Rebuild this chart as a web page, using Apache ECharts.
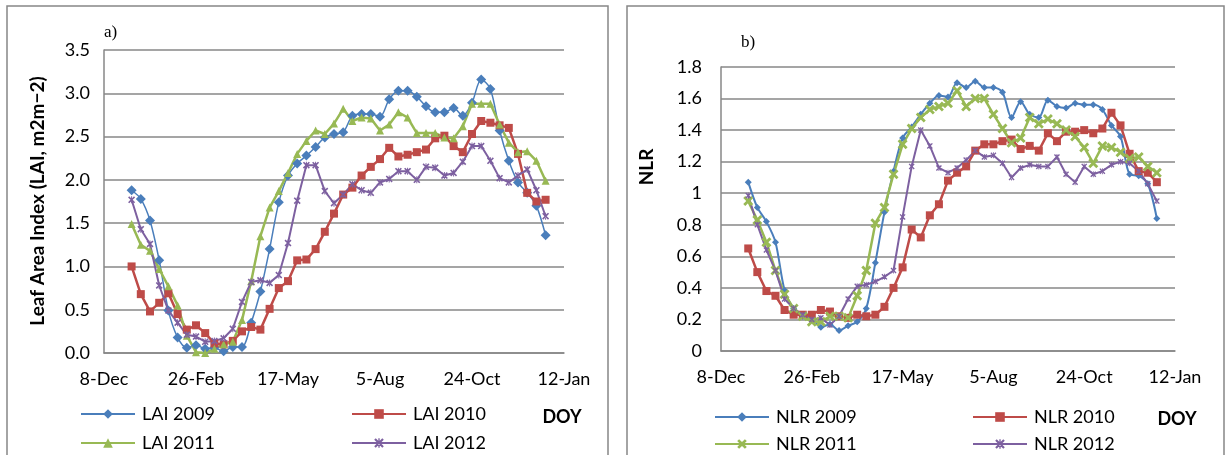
<!DOCTYPE html>
<html>
<head>
<meta charset="utf-8">
<script src="https://cdn.jsdelivr.net/npm/echarts@6/dist/echarts.min.js"></script>
<style>
html,body{margin:0;padding:0;background:#fff;}
#c{width:1226px;height:455px;}
</style>
</head>
<body>
<div id="c"></div>
<script>
// ---- data ----
const xTickLabels = ['8-Dec', '26-Feb', '17-May', '5-Aug', '24-Oct', '12-Jan'];
// 8-day composite day-of-year
const doy = [1,9,17,25,33,41,49,57,65,73,81,89,97,105,113,121,129,137,145,153,161,169,177,185,193,201,209,217,225,233,241,249,257,265,273,281,289,297,305,313,321,329,337,345,353,361];
const dayOffset = 23; // days from 8-Dec to 31-Dec (axis origin = 8-Dec)

const laiTicks = [0, 0.5, 1.0, 1.5, 2.0, 2.5, 3.0, 3.5];
const nlrTicks = [0, 0.2, 0.4, 0.6, 0.8, 1, 1.2, 1.4, 1.6, 1.8];

const lai2009 = [1.88,1.78,1.53,1.07,0.49,0.18,0.06,0.09,0.05,0.06,0.02,0.07,0.07,0.35,0.71,1.20,1.74,2.05,2.19,2.28,2.38,2.49,2.53,2.55,2.74,2.76,2.76,2.73,2.93,3.03,3.03,2.96,2.85,2.78,2.78,2.83,2.74,2.89,3.16,3.05,2.57,2.22,1.97,1.85,1.70,1.36];
const lai2010 = [1.00,0.68,0.48,0.58,0.69,0.45,0.27,0.32,0.23,0.11,0.10,0.14,0.25,0.30,0.27,0.51,0.75,0.83,1.07,1.08,1.20,1.40,1.61,1.83,1.91,2.05,2.15,2.24,2.37,2.27,2.29,2.32,2.35,2.48,2.51,2.39,2.32,2.53,2.68,2.66,2.63,2.60,2.30,1.85,1.75,1.77];
const lai2011 = [1.49,1.25,1.18,0.97,0.77,0.55,0.20,0.01,0.00,0.05,0.10,0.13,0.38,0.83,1.35,1.68,1.87,2.08,2.30,2.45,2.57,2.53,2.65,2.82,2.68,2.72,2.71,2.57,2.64,2.78,2.72,2.54,2.54,2.54,2.49,2.48,2.62,2.88,2.88,2.88,2.64,2.43,2.32,2.33,2.22,1.99];
const lai2012 = [1.77,1.43,1.26,0.78,0.49,0.35,0.21,0.19,0.13,0.14,0.17,0.28,0.59,0.82,0.84,0.81,0.90,1.27,1.76,2.17,2.17,1.87,1.73,1.83,1.95,1.88,1.85,1.97,2.01,2.10,2.10,2.00,2.15,2.14,2.05,2.08,2.21,2.39,2.39,2.22,2.02,1.97,2.05,2.12,1.88,1.58];

const nlr2009 = [1.07,0.91,0.82,0.69,0.385,0.27,0.22,0.21,0.15,0.17,0.13,0.16,0.185,0.27,0.56,0.88,1.14,1.35,1.42,1.50,1.57,1.62,1.61,1.70,1.67,1.71,1.67,1.67,1.64,1.48,1.58,1.50,1.48,1.59,1.55,1.54,1.57,1.56,1.56,1.53,1.43,1.36,1.12,1.11,1.06,0.84];
const nlr2010 = [0.65,0.50,0.38,0.35,0.26,0.23,0.23,0.23,0.26,0.25,0.22,0.21,0.23,0.22,0.23,0.28,0.40,0.53,0.77,0.72,0.86,0.93,1.08,1.13,1.17,1.27,1.31,1.31,1.33,1.34,1.28,1.30,1.27,1.38,1.33,1.39,1.39,1.40,1.38,1.41,1.51,1.43,1.25,1.14,1.13,1.07];
const nlr2011 = [0.95,0.83,0.69,0.51,0.36,0.27,0.22,0.185,0.185,0.22,0.22,0.21,0.35,0.51,0.81,0.91,1.12,1.31,1.41,1.48,1.53,1.55,1.57,1.65,1.55,1.60,1.60,1.50,1.41,1.32,1.35,1.48,1.44,1.47,1.44,1.40,1.36,1.29,1.19,1.30,1.29,1.26,1.22,1.23,1.17,1.13];
const nlr2012 = [0.985,0.80,0.64,0.51,0.33,0.27,0.23,0.20,0.21,0.165,0.22,0.33,0.41,0.42,0.44,0.47,0.51,0.85,1.17,1.40,1.30,1.16,1.13,1.16,1.21,1.27,1.23,1.24,1.19,1.10,1.16,1.18,1.17,1.17,1.23,1.12,1.07,1.17,1.12,1.14,1.18,1.20,1.19,1.14,1.06,0.95];

// ---- styling ----
const FONT = 'Lato';
const GRID = '#878787';
const C_BLUE = '#4A7EBB', C_RED = '#BE4B48', C_GREEN = '#98B954', C_PURPLE = '#7D60A0';
const X_SYM = 'path://M0,2 L2,0 L5,3 L8,0 L10,2 L7,5 L10,8 L8,10 L5,7 L2,10 L0,8 L3,5 Z';
const STAR_SYM = 'path://M0,1.6 L1.6,0 L5,3.4 L8.4,0 L10,1.6 L6.6,5 L10,8.4 L8.4,10 L5,6.6 L1.6,10 L0,8.4 L3.4,5 Z M4.3,0 L5.7,0 L5.7,3.6 L5,4.3 L4.3,3.6 Z M4.3,10 L5.7,10 L5.7,6.4 L5,5.7 L4.3,6.4 Z';

function pts(vals) { return doy.map((d, i) => [d + dayOffset, vals[i]]); }

function xAxis(gi) {
  return {
    type: 'value', gridIndex: gi, min: 0, max: 400, interval: 80,
    axisLine: { show: true, lineStyle: { color: GRID, width: 1.5 } },
    axisTick: { show: false },
    splitLine: { show: false },
    axisLabel: { margin: 17, color: '#000', fontFamily: FONT, fontSize: 18,
      formatter: v => xTickLabels[Math.round(v / 80)] }
  };
}
function yAxis(gi, ticks, fmt, margin) {
  return {
    type: 'value', gridIndex: gi, min: ticks[0], max: ticks[ticks.length - 1],
    interval: ticks[1] - ticks[0],
    axisLine: { show: true, lineStyle: { color: GRID, width: 1.5 } },
    axisTick: { show: false },
    splitLine: { show: true, lineStyle: { color: GRID, width: 1.5 } },
    axisLabel: { margin: margin, color: '#000', fontFamily: FONT, fontSize: 18, formatter: fmt }
  };
}
function series(name, gi, vals, color, symbol, size, width, smooth) {
  return {
    name: name, type: 'line', xAxisIndex: gi, yAxisIndex: gi, data: pts(vals),
    symbol: symbol, symbolSize: size, showSymbol: true, smooth: smooth || false,
    lineStyle: { color: color, width: width },
    itemStyle: { color: color },
    emphasis: { disabled: true }, animation: false, z: 3
  };
}
function legend(name, left, top) {
  return {
    data: [name], left: left, top: top, padding: 0, itemWidth: 54, itemHeight: 12, itemGap: 0,
    selectedMode: false,
    textStyle: { fontFamily: FONT, fontSize: 18, color: '#000', padding: [0, 0, 0, 2] }
  };
}

const option = {
  backgroundColor: '#fff',
  animation: false,
  grid: [
    { left: 104, top: 50, width: 460, height: 303 },
    { left: 721, top: 67, width: 454, height: 284 }
  ],
  xAxis: [xAxis(0), xAxis(1)],
  yAxis: [
    yAxis(0, laiTicks, v => v.toFixed(1), 14),
    yAxis(1, nlrTicks, v => String(+v.toFixed(1)), 19)
  ],
  legend: [
    legend('LAI 2009', 80, 405), legend('LAI 2011', 80, 434),
    legend('LAI 2010', 351, 405), legend('LAI 2012', 351, 434),
    legend('NLR 2009', 714, 408), legend('NLR 2011', 714, 435),
    legend('NLR 2010', 972, 408), legend('NLR 2012', 972, 435)
  ],
  series: [
    series('LAI 2009', 0, lai2009, C_BLUE, 'diamond', 10, 1.5, 0.3),
    series('LAI 2010', 0, lai2010, C_RED, 'rect', 8, 2.5),
    series('LAI 2011', 0, lai2011, C_GREEN, 'triangle', 8, 2.5),
    series('LAI 2012', 0, lai2012, C_PURPLE, STAR_SYM, 7, 2),
    series('NLR 2009', 1, nlr2009, C_BLUE, 'diamond', 7, 2, 0.3),
    series('NLR 2010', 1, nlr2010, C_RED, 'rect', 8, 2.5),
    series('NLR 2011', 1, nlr2011, C_GREEN, X_SYM, 10, 2.5),
    series('NLR 2012', 1, nlr2012, C_PURPLE, STAR_SYM, 6, 2)
  ],
  graphic: [
    { type: 'rect', shape: { x: 7, y: 6, width: 601, height: 470 }, style: { fill: 'none', stroke: GRID, lineWidth: 1.5 }, z: 0 },
    { type: 'rect', shape: { x: 627, y: 6, width: 597, height: 470 }, style: { fill: 'none', stroke: GRID, lineWidth: 1.5 }, z: 0 },
    { type: 'text', x: 104, y: 33, style: { text: 'a)', font: '17px "Liberation Serif"', fill: '#000', textVerticalAlign: 'middle' } },
    { type: 'text', x: 741, y: 43, style: { text: 'b)', font: '17px "Liberation Serif"', fill: '#000', textVerticalAlign: 'middle' } },
    { type: 'text', x: 38, y: 201, rotation: Math.PI / 2,
      style: { text: 'Leaf Area Index (LAI, m2m\u22122)', font: 'bold 19px Lato', fill: '#000', textAlign: 'center', textVerticalAlign: 'middle' } },
    { type: 'text', x: 647, y: 167, rotation: Math.PI / 2,
      style: { text: 'NLR', font: 'bold 19px Lato', fill: '#000', textAlign: 'center', textVerticalAlign: 'middle' } },
    { type: 'text', x: 562, y: 417, style: { text: 'DOY', font: 'bold 18px Lato', fill: '#000', textAlign: 'center', textVerticalAlign: 'middle' } },
    { type: 'text', x: 1177, y: 419, style: { text: 'DOY', font: 'bold 18px Lato', fill: '#000', textAlign: 'center', textVerticalAlign: 'middle' } }
  ]
};

const chart = echarts.init(document.getElementById('c'), null, { renderer: 'canvas' });
chart.setOption(option);
</script>
</body>
</html>
